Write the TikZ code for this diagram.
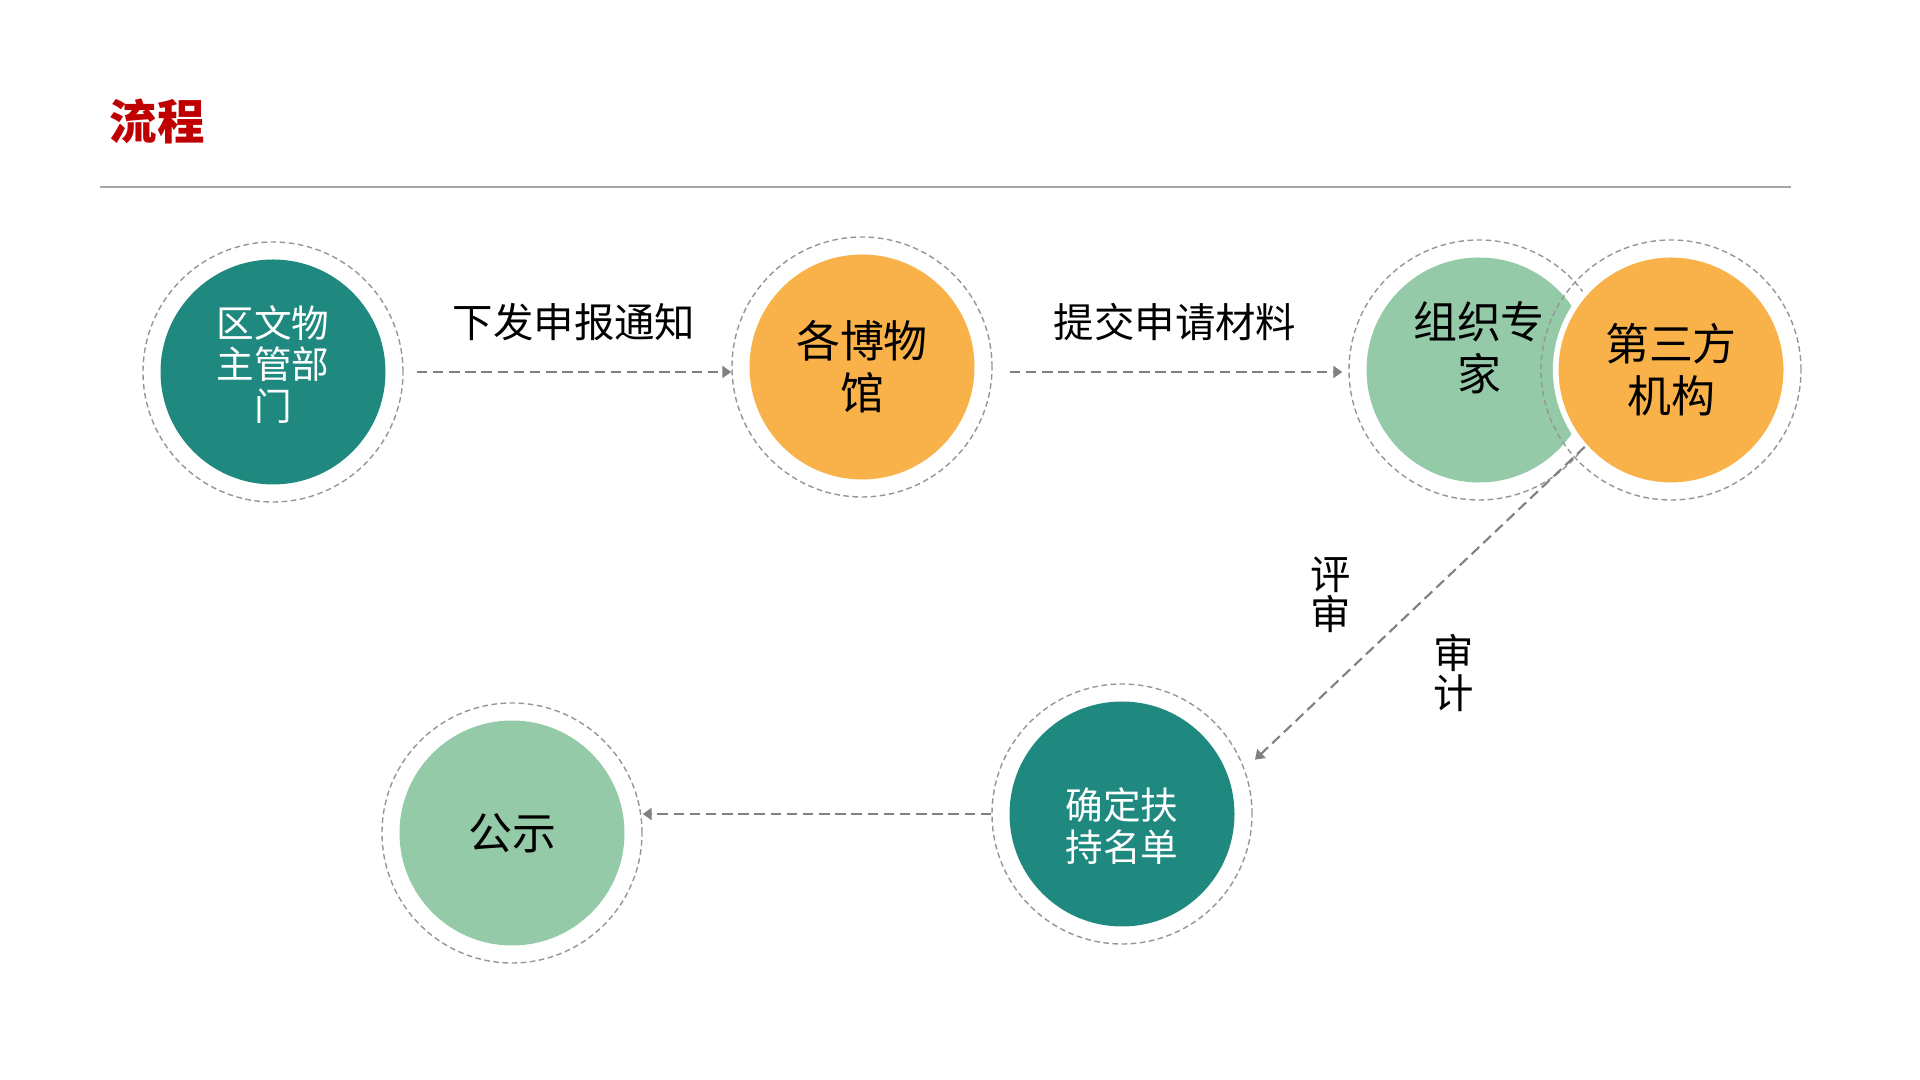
\documentclass[tikz,border=0pt]{standalone}
\usepackage{fontspec}
\setmainfont{Noto Sans CJK SC}
\usetikzlibrary{arrows.meta}

\definecolor{stepteal}{RGB}{31,137,128}
\definecolor{steporange}{RGB}{249,178,73}
\definecolor{stepgreen}{RGB}{148,202,167}
\definecolor{titlered}{RGB}{192,0,0}
\definecolor{rulegray}{RGB}{166,166,166}
\definecolor{ringgray}{RGB}{150,150,150}
\definecolor{arrowgray}{RGB}{128,128,128}

\tikzset{
  stage/.style={circle, minimum size=2.25cm, inner sep=0pt},
  ring/.style={circle, draw=ringgray, line width=0.4pt, dash pattern=on 1.6pt off 1pt,
    minimum size=2.6cm, inner sep=0pt},
  flow/.style={draw=arrowgray, line width=0.6pt, dash pattern=on 3pt off 1.6pt, ->},
  bigtxt/.style={align=center, inner sep=0pt, font=\fontsize{12.5}{14.8}\selectfont},
  smalltxt/.style={align=center, inner sep=0pt, text=white, font=\fontsize{10.7}{11.8}\selectfont},
  steplbl/.style={inner sep=0pt, font=\fontsize{11.5}{13}\selectfont},
  vlbl/.style={align=center, inner sep=0pt, font=\fontsize{11.5}{11.5}\selectfont},
}

\begin{document}
\begin{tikzpicture}[>={Triangle[length=0.09cm,width=0.12cm]}]
    \useasboundingbox (0,0) rectangle (19.2,10.8);
    % Title
    \node[text=titlered, font=\fontsize{13.5}{16}\selectfont\bfseries] (title) at (1.57,9.59) {流程};
    \draw[rulegray, line width=0.6pt] (1.00,8.93) -- (17.91,8.93);

    % Top row
    \node[ring] (dept-r) at (2.73,7.08) {};
    \node[stage, fill=stepteal] (dept) at (dept-r) {};
    \node[smalltxt] (dept-t) at ([yshift=0.075cm]dept) {区文物\\主管部\\门};

    \node[ring] (museum-r) at (8.62,7.13) {};
    \node[stage, fill=steporange] (museum) at (museum-r) {};
    \node[bigtxt] (museum-t) at (museum) {各博物\\馆};

    \node[ring] (expert-r) at (14.79,7.10) {};
    \node[stage, fill=stepgreen] (expert) at (expert-r) {};
    \node[bigtxt] (expert-t) at ([yshift=0.22cm]expert) {组织专\\家};

    \node[stage, fill=steporange, draw=white, line width=1.6pt, minimum size=2.25cm+1.6pt] (third) at (16.71,7.10) {};
    \node[ring] (third-r) at (third) {};
    \node[bigtxt] (third-t) at (third) {第三方\\机构};

    % Bottom row
    \node[ring] (list-r) at (11.22,2.66) {};
    \node[stage, fill=stepteal] (list) at (list-r) {};
    \node[smalltxt] (list-t) at ([yshift=-0.12cm]list) {确定扶\\持名单};

    \node[ring] (show-r) at (5.12,2.47) {};
    \node[stage, fill=stepgreen] (show) at (show-r) {};
    \node[bigtxt] (show-t) at (show) {公示};

    % Connectors
    \draw[flow, shorten <=0.13cm] (dept-r.east) -- (dept-r.east -| museum-r.west)
        node[steplbl, pos=0.52, above=0.3cm] (notice) {下发申报通知};
    \draw[flow, shorten <=0.17cm, shorten >=0.06cm] (museum-r.east |- dept-r.east) -- (dept-r.east -| expert-r.west)
        node[steplbl, pos=0.513, above=0.3cm] (submit) {提交申请材料};
    \draw[flow, shorten >=0.14cm] (expert-r.-36) -- (list-r.20);
    \draw[flow] (list-r.west) -- (list-r.west -| show-r.east);

    \node[vlbl] (review) at (13.31,4.85) {评\\审};
    \node[vlbl] (audit) at (14.54,4.07) {审\\计};
\end{tikzpicture}
\end{document}
